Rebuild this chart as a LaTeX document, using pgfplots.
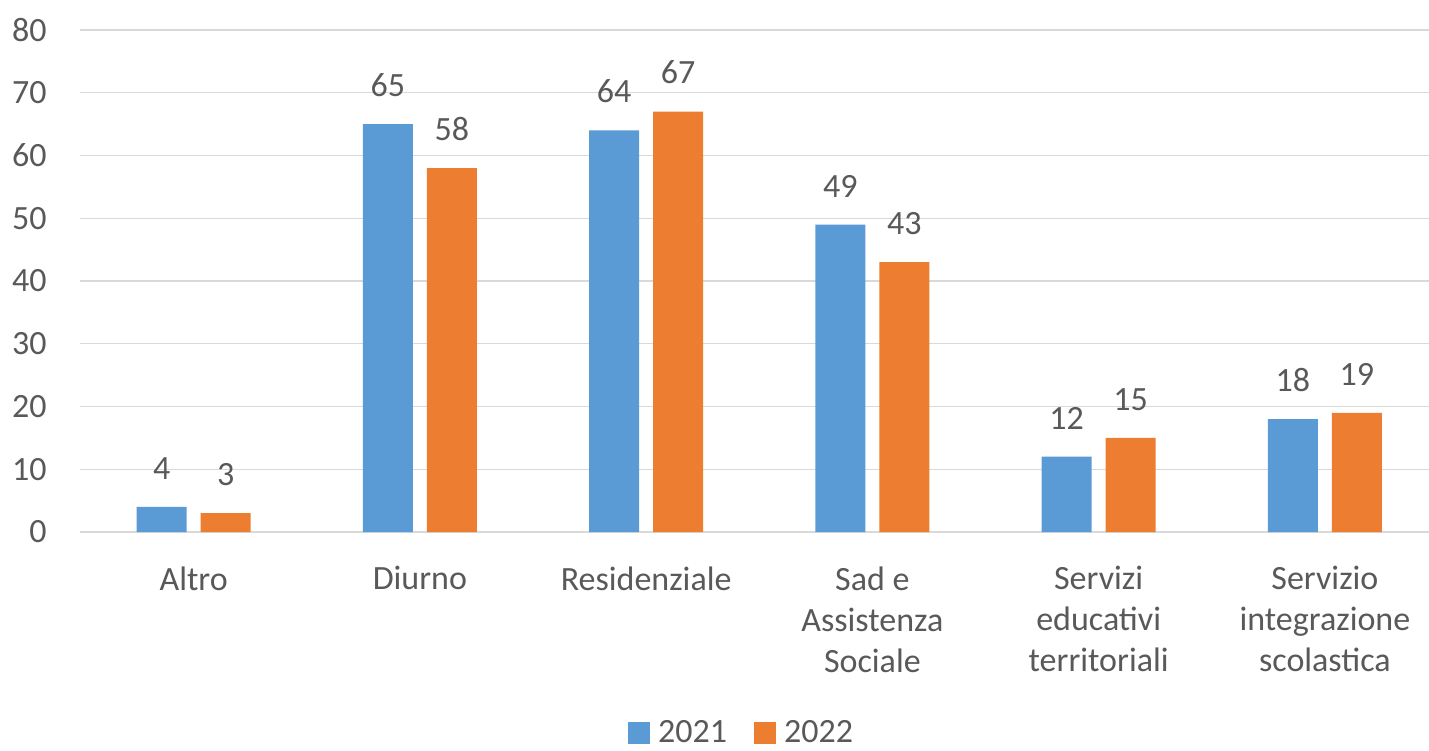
\documentclass[border=0pt]{standalone}
\usepackage{pgfplots}
\pgfplotsset{compat=1.18}
\usepackage{fontspec}
\setmainfont{Carlito}
\definecolor{cblue}{HTML}{5B9BD5}
\definecolor{corange}{HTML}{ED7D31}
\definecolor{ctext}{HTML}{595959}
\definecolor{cgrid}{HTML}{D9D9D9}
\begin{document}
\begin{tikzpicture}
\path[use as bounding box] (-40.25pt,-109pt) rectangle (674.25pt,266pt);
\begin{axis}[
  at={(0pt,0pt)}, anchor=south west,
  scale only axis,
  width=674.25pt, height=251pt,
  ybar=7pt, bar width=25pt,
  xmin=-0.5, xmax=5.46,
  ymin=0, ymax=80,
  ytick={0,10,...,80},
  xtick={0,1,2,3,4,5},
  xticklabels={Altro, Diurno, Residenziale, {Sad e\\Assistenza\\Sociale}, {Servizi\\educativi\\territoriali}, {Servizio\\integrazione\\scolastica}},
  axis x line*=bottom,
  axis y line*=left,
  x axis line style={draw=cgrid, line width=0.6pt, -},
  y axis line style={draw=none},
  major tick length=0pt,
  ymajorgrids, grid style={draw=cgrid, line width=0.6pt},
  tick label style={font=\fontsize{17}{20.5}\selectfont, text=ctext},
  yticklabel style={anchor=east, inner sep=0pt, xshift=-16.75pt},
  xticklabel style={anchor=north, inner sep=0pt, yshift=-17pt, align=center},
  /pgf/number format/assume math mode=true,
  nodes near coords,
  every node near coord/.append style={font=\fontsize{17}{20.5}\selectfont, text=ctext, anchor=south, inner sep=0pt, yshift=13.5pt},
  legend style={at={(0.4925,-0.40)}, anchor=center, draw=none, legend columns=2,
    font=\fontsize{17}{20.5}\selectfont, text=ctext,
    /tikz/every even column/.append style={column sep=9.5pt},
    nodes={inner xsep=4pt, inner ysep=0pt}},
  legend image code/.code={\fill[#1] (0pt,-5.5pt) rectangle (11pt,5.5pt);},
  clip=false,
]
\addplot[fill=cblue, draw=none] coordinates {(0,4) (1,65) (2,64) (3,49) (4,12) (5,18)};
\addplot[fill=corange, draw=none] coordinates {(0,3) (1,58) (2,67) (3,43) (4,15) (5,19)};
\legend{2021, 2022}
\end{axis}
\end{tikzpicture}
\end{document}
